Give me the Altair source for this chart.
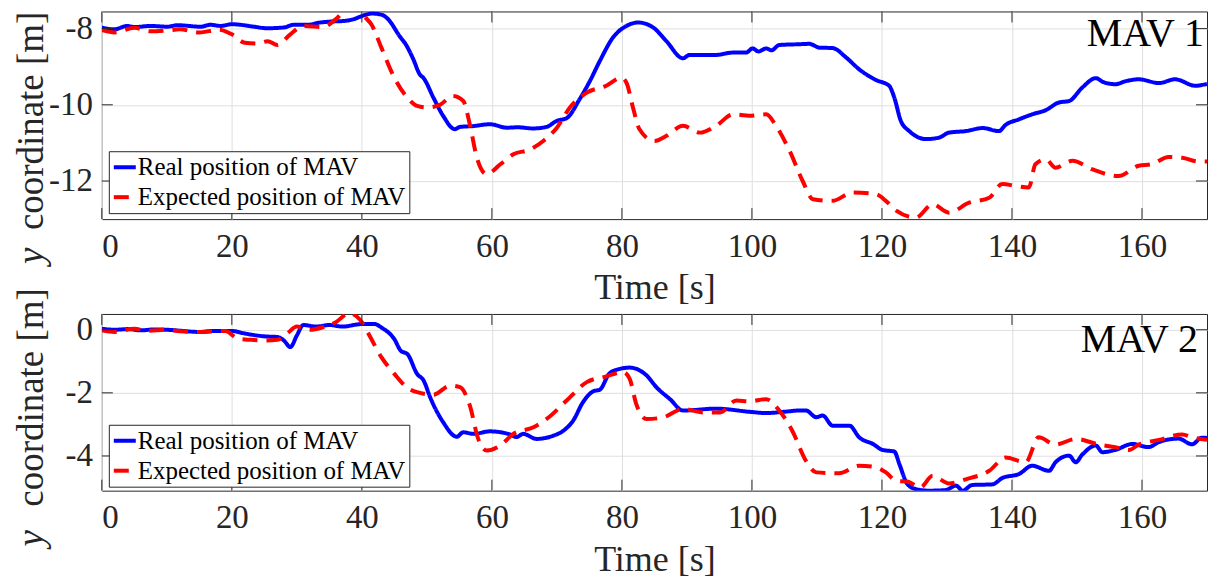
import altair as alt
import pandas as pd

# ---------------- data ----------------
SERIES = ["Real position of MAV", "Expected position of MAV"]

# MAV 1
real1_t = [0, 1.9, 3.9, 5, 7.5, 10.1, 11.6, 15.2, 16.7, 18.3, 20, 21.3, 23.4, 25.4, 28, 29.5, 31.6,
           33.6, 35.2, 37.2, 38.7, 40, 41.6, 43.1, 43.9, 45.9, 46.7, 47.9, 48.9, 49.5, 51, 52.5, 54.3,
           55.1, 57, 59.7, 62.3, 64, 66.3, 68.4, 70, 71.5, 73.5, 75, 76.6, 78.6, 80.7, 82.5, 84.8,
           86.8, 89.4, 90.4, 92, 94.5, 97, 99.1, 100.1, 101, 102.2, 103, 104.2, 107.3, 108.8, 110.4,
           112.4, 114.5, 116.5, 119.1, 121.1, 121.9, 122.9, 124.2, 126.8, 128.8, 130.3, 132.9, 135.5,
           138, 139, 141.1, 143.1, 145.2, 147.2, 148.8, 150.8, 152.9, 154, 155.9, 157.5, 159.5, 162.6,
           165.1, 168.2, 170]
real1_y = [-7.97, -8.02, -7.93, -7.96, -7.93, -7.95, -7.91, -7.95, -7.9, -7.93, -7.885, -7.9, -7.95,
           -7.99, -7.97, -7.9, -7.9, -7.84, -7.815, -7.8, -7.755, -7.67, -7.605, -7.64, -7.73, -8.22,
           -8.4, -8.8, -9.2, -9.3, -9.81, -10.29, -10.64, -10.58, -10.56, -10.51, -10.6, -10.59,
           -10.62, -10.58, -10.42, -10.35, -9.85, -9.4, -8.85, -8.24, -7.93, -7.84, -7.97, -8.32,
           -8.78, -8.69, -8.69, -8.69, -8.63, -8.63, -8.52, -8.6, -8.52, -8.57, -8.43, -8.41, -8.4,
           -8.5, -8.51, -8.76, -9.07, -9.35, -9.5, -9.81, -10.42, -10.69, -10.9, -10.86, -10.73,
           -10.69, -10.61, -10.69, -10.53, -10.38, -10.25, -10.14, -9.94, -9.9, -9.55, -9.3, -9.4,
           -9.46, -9.38, -9.33, -9.43, -9.33, -9.5, -9.45]

exp1_t = [0, 2, 5, 7.5, 10, 12, 15, 18, 20, 22, 24, 25.5, 27, 29, 31, 34, 36, 38, 39.5, 40.5, 41.5,
          43, 45, 47, 48.5, 50, 52, 54, 55.6, 56.6, 57.7, 59.2, 61.3, 63.3, 65.9, 67.9, 70, 72, 74.6,
          77.6, 79.9, 80.7, 81.7, 82.7, 85, 86.8, 89.4, 92, 94.5, 97.1, 99.6, 102.2, 103.7, 105.8,
          107.8, 109.4, 112.4, 115.5, 119.1, 120.6, 122.2, 125.2, 127.8, 130.3, 133.4, 136.5, 138.5,
          140.6, 142.6, 143.6, 145.2, 146.7, 149.3, 152.3, 156.4, 159.5, 161.5, 164.1, 166.2, 168.7,
          170]
exp1_y = [-8.04, -8.1, -7.98, -8.07, -8.05, -8.02, -8.1, -8.03, -8.15, -8.37, -8.39, -8.33, -8.43,
          -8.15, -7.93, -7.96, -7.75, -7.45, -7.5, -7.7, -7.9, -8.5, -9.29, -9.81, -10.03, -10.07,
          -10.0, -9.77, -9.9, -10.51, -11.39, -11.82, -11.56, -11.3, -11.17, -10.95, -10.6, -10.07,
          -9.68, -9.5, -9.29, -9.42, -10.07, -10.64, -10.95, -10.82, -10.55, -10.73, -10.55, -10.25,
          -10.29, -10.25, -10.55, -11.21, -12.0, -12.48, -12.52, -12.3, -12.35, -12.52, -12.78,
          -12.96, -12.61, -12.83, -12.57, -12.44, -12.08, -12.13, -12.17, -11.56, -11.43, -11.65,
          -11.47, -11.69, -11.87, -11.6, -11.56, -11.37, -11.39, -11.49, -11.49]

# MAV 2
real2_t = [0, 2, 4, 6, 8, 10, 12, 15, 17, 20, 22, 25, 27, 28, 29, 30, 31, 33, 35, 37, 40, 42, 43, 45,
           46, 47, 48.5, 49.5, 50.5, 52.5, 54.6, 55.6, 57.2, 59.7, 62.8, 63.8, 64.8, 66.9, 69.4, 71,
           72.5, 74, 75.6, 76.6, 78.1, 79.7, 81.2, 83.8, 85.3, 87.4, 89.4, 94.5, 99.6, 102.2, 105,
           107.3, 108.3, 109.9, 110.9, 112.4, 115, 116.5, 118.6, 120.1, 121.9, 122.7, 123.9, 125.2,
           127.3, 129.8, 131.4, 132.4, 133.9, 137, 138.5, 141.1, 143.1, 145.7, 146.7, 148.8, 149.8,
           150.8, 152.9, 153.9, 155.9, 158.5, 161, 162.6, 165.6, 167.7, 169.2, 170]
real2_y = [0.03, 0, 0.02, -0.02, 0.01, 0, -0.03, -0.07, -0.04, -0.04, -0.12, -0.21, -0.23, -0.34,
           -0.55, -0.18, 0.15, 0.1, 0.15, 0.1, 0.18, 0.18, 0.07, -0.3, -0.67, -0.77, -1.4, -1.61,
           -2.14, -2.93, -3.39, -3.25, -3.3, -3.22, -3.32, -3.4, -3.3, -3.46, -3.36, -3.2, -2.88,
           -2.3, -1.95, -1.9, -1.38, -1.24, -1.2, -1.45, -1.82, -2.2, -2.56, -2.5, -2.6, -2.64, -2.6,
           -2.56, -2.56, -2.77, -2.72, -3.04, -3.04, -3.41, -3.62, -3.81, -3.86, -4.27, -4.89, -5.05,
           -5.1, -5.08, -4.94, -5.1, -4.92, -4.9, -4.7, -4.57, -4.31, -4.47, -4.2, -3.99, -4.2, -3.96,
           -3.67, -3.88, -3.81, -3.62, -3.72, -3.56, -3.45, -3.63, -3.42, -3.43]

exp2_t = [0, 2, 5, 7, 10, 12, 15, 19, 21, 23, 25, 27, 28.5, 30, 32, 34, 36, 38, 40, 41, 43, 45, 46.9,
          48.5, 51, 53.6, 55.1, 56.6, 57.9, 59.2, 61.3, 63.3, 66.4, 68.9, 71.5, 74.6, 77.6, 80.2,
          81.2, 82.2, 83.8, 86.3, 89.4, 92.5, 95.1, 97.6, 99.6, 102.2, 104.2, 106.2, 108.3, 109.9,
          113.4, 116.5, 119.1, 120.6, 122.2, 123.9, 125.9, 127.8, 130.3, 132.9, 136.5, 139, 142.1,
          144.1, 146.7, 149.8, 153.4, 155.9, 158, 159.5, 162.6, 166.2, 167.7, 170]
exp2_y = [-0.02, -0.07, 0.03, -0.03, 0, -0.05, -0.07, -0.04, -0.29, -0.32, -0.34, -0.32, -0.12, 0.1,
          0, 0.08, 0.24, 0.52, 0.24, -0.12, -0.87, -1.4, -1.82, -1.98, -2.06, -1.77, -1.82, -2.4,
          -3.46, -3.83, -3.67, -3.3, -3.09, -2.75, -2.24, -1.66, -1.48, -1.34, -1.56, -2.35, -2.83,
          -2.78, -2.51, -2.62, -2.62, -2.24, -2.27, -2.2, -2.56, -3.2, -4.15, -4.52, -4.55, -4.31,
          -4.36, -4.52, -4.79, -4.81, -5.0, -4.63, -4.87, -4.74, -4.47, -4.05, -4.2, -3.41, -3.64,
          -3.46, -3.64, -3.72, -3.81, -3.64, -3.49, -3.32, -3.41, -3.49]

X_TICKS = [0, 20, 40, 60, 80, 100, 120, 140, 160]
Y_TICKS_1 = [-12, -10, -8]
Y_TICKS_2 = [-4, -2, 0]
Y_LABELS_1 = ["-12", "-10", "-8"]
Y_LABELS_2 = ["-4", "-2", "0"]

# ---------------- styling ----------------
SERIF = "Liberation Serif"
AX = "#262626"
W = 1107
TICK = 11


def panel(rt, ry, et, ey, ydom, yticks, ylabels, height, name, name_x, name_y,
          legend_y, ylab_y, ylab_c):
    real = pd.DataFrame({"t": rt, "y": ry, "series": SERIES[0]})
    exp = pd.DataFrame({"t": et, "y": ey, "series": SERIES[1]})

    xenc = alt.X("t:Q", scale=alt.Scale(domain=[0, 170], nice=False, zero=False),
                 axis=alt.Axis(values=X_TICKS, title="Time [s]", grid=True))
    yenc = alt.Y("y:Q", scale=alt.Scale(domain=ydom, nice=False, zero=False),
                 axis=alt.Axis(values=yticks, title=None, grid=True, labels=False))
    leg = alt.Legend(orient="none", legendX=7, legendY=legend_y, title=None,
                     fillColor="white", strokeColor=AX, padding=3, cornerRadius=0,
                     labelFont=SERIF, labelFontSize=25, labelColor="black",
                     labelLimit=500, labelOffset=0, rowPadding=4,
                     symbolType="stroke", symbolSize=484, symbolStrokeWidth=4)
    color = alt.Color("series:N", scale=alt.Scale(domain=SERIES, range=["#0000ff", "#ff0000"]),
                      legend=leg)
    dash = alt.StrokeDash("series:N", scale=alt.Scale(domain=SERIES, range=[[1, 0], [15, 9]]),
                          legend=leg)

    line_real = alt.Chart(real).mark_line(strokeWidth=4, clip=True, interpolate="monotone").encode(
        x=xenc, y=yenc, color=color, strokeDash=dash)
    line_exp = alt.Chart(exp).mark_line(strokeWidth=4, clip=True, interpolate="monotone").encode(
        x=xenc, y=yenc, color=color, strokeDash=dash)

    # inward tick marks on all four sides
    xt = pd.DataFrame({"t": X_TICKS})
    yt = pd.DataFrame({"y": yticks, "lab": ylabels})
    tick_top = alt.Chart(xt).mark_rule(color=AX, strokeWidth=1).encode(
        x=xenc, y=alt.value(0), y2=alt.value(TICK))
    tick_bot = alt.Chart(xt).mark_rule(color=AX, strokeWidth=1).encode(
        x=xenc, y=alt.value(height - TICK), y2=alt.value(height))
    tick_left = alt.Chart(yt).mark_rule(color=AX, strokeWidth=1).encode(
        y=yenc, x=alt.value(0), x2=alt.value(TICK))
    tick_right = alt.Chart(yt).mark_rule(color=AX, strokeWidth=1).encode(
        y=yenc, x=alt.value(W - TICK), x2=alt.value(W))
    # y tick labels, right-aligned just left of the frame
    ytick_lab = alt.Chart(yt).mark_text(
        align="right", baseline="middle", font=SERIF, fontSize=33, color=AX).encode(
        y=yenc, x=alt.value(-9), text="lab:N")

    one = pd.DataFrame({"v": [0]})
    name_txt = alt.Chart(one).mark_text(
        text=name, align="right", baseline="alphabetic", font=SERIF, fontSize=40,
        color="black").encode(x=alt.value(name_x), y=alt.value(name_y))

    # y-axis title: italic "y" followed by upright "coordinate [m]"
    ytitle_y = alt.Chart(one).mark_text(
        text="y", angle=270, align="left", baseline="alphabetic", font=SERIF,
        fontStyle="italic", fontSize=37, color=AX).encode(x=alt.value(-59), y=alt.value(ylab_y))
    ytitle_rest = alt.Chart(one).mark_text(
        text="coordinate [m]", angle=270, align="left", baseline="alphabetic", font=SERIF,
        fontSize=37, color=AX).encode(x=alt.value(-59), y=alt.value(ylab_c))

    return alt.layer(line_real, line_exp, tick_top, tick_bot, tick_left, tick_right, ytick_lab,
                     name_txt, ytitle_y, ytitle_rest).properties(width=W, height=height)


top = panel(real1_t, real1_y, exp1_t, exp1_y, [-13, -7.55], Y_TICKS_1, Y_LABELS_1, 208,
            "MAV 1", 1104, 35, 140, 253, 219)
bottom = panel(real2_t, real2_y, exp2_t, exp2_y, [-5.1, 0.5], Y_TICKS_2, Y_LABELS_2, 177,
               "MAV 2", 1098, 38, 111, 233, 193)

chart = alt.vconcat(top, bottom, spacing=95, bounds="flush").resolve_legend(
    color="independent", strokeDash="independent"
).properties(
    padding={"left": 12, "top": 10, "right": 3, "bottom": 0},
    background="white",
).configure(
    font=SERIF,
).configure_view(
    stroke=AX, strokeWidth=1
).configure_axis(
    domain=False, ticks=False,
    labelFont=SERIF, labelFontSize=33, labelColor=AX,
    titleFont=SERIF, titleFontSize=36, titleFontWeight="normal", titleColor=AX,
    gridColor="#dfdfdf", gridWidth=1,
).configure_axisX(
    labelPadding=11, titlePadding=8,
)

chart.save("out.html", embed_options={"renderer": "svg", "actions": False})
